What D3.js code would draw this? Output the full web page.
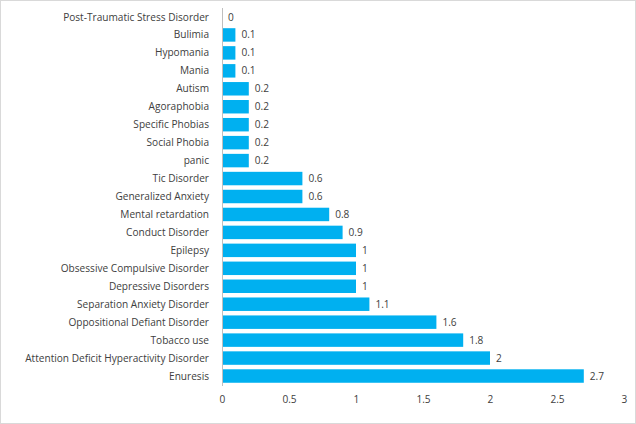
<!DOCTYPE html>
<html><head><meta charset="utf-8">
<script src="https://cdn.jsdelivr.net/npm/d3@7"></script>
<style>body{margin:0;background:#fff}svg{display:block}text{font-family:"Liberation Sans Narrow","Open Sans","Noto Sans",sans-serif;fill:#404040}</style>
</head><body>
<svg id="c" width="636" height="424"></svg>
<script>
const categories = ["Post-Traumatic Stress Disorder","Bulimia","Hypomania","Mania","Autism","Agoraphobia","Specific Phobias","Social Phobia","panic","Tic Disorder","Generalized Anxiety","Mental retardation","Conduct Disorder","Epilepsy","Obsessive Compulsive Disorder","Depressive Disorders","Separation Anxiety Disorder","Oppositional Defiant Disorder","Tobacco use","Attention Deficit Hyperactivity Disorder","Enuresis"];
const values = [0,0.1,0.1,0.1,0.2,0.2,0.2,0.2,0.2,0.6,0.6,0.8,0.9,1,1,1,1.1,1.6,1.8,2,2.7];
const xTicks = [0,0.5,1,1.5,2,2.5,3];
const FONT = '"Liberation Sans Narrow","Open Sans","Noto Sans",sans-serif';

const svg = d3.select("#c");
svg.append("rect").attr("x",0.5).attr("y",0.5).attr("width",635).attr("height",423).attr("fill","#fff").attr("stroke","#d9d9d9");

const x = d3.scaleLinear().domain([0,3]).range([222,624]);
const y = d3.scaleBand().domain(categories).range([8,385]).paddingInner(0.25).paddingOuter(0.125);

svg.selectAll("rect.bar").data(values).join("rect").attr("class","bar")
  .attr("x",x(0)).attr("y",(d,i)=>y(categories[i]))
  .attr("width",d=>x(d)-x(0)).attr("height",y.bandwidth()).attr("fill","#00b0f0");

svg.append("line").attr("x1",x(0)+0.5).attr("x2",x(0)+0.5).attr("y1",8).attr("y2",386).attr("stroke","#bfbfbf");

const labels = svg.append("g").selectAll("text").data(categories).join("text")
  .attr("x",209).attr("y",d=>y(d)+y.bandwidth()/2).attr("dy","0.35em")
  .attr("text-anchor","end").style("font-size","11px").text(d=>d);
let maxW = 0; labels.each(function(){maxW=Math.max(maxW,this.getComputedTextLength());});
const fs = Math.min(12.5, 11*184/maxW);
labels.style("font-size",fs+"px");

svg.append("g").selectAll("text").data(values).join("text")
  .attr("x",d=>x(d)+6).attr("y",(d,i)=>y(categories[i])+y.bandwidth()/2).attr("dy","0.35em")
  .style("font-size",fs+"px").text(d=>d);

const ax = d3.axisBottom(x).tickValues(xTicks).tickSize(0).tickPadding(0).tickFormat(d3.format("~g"));
const g = svg.append("g").attr("transform","translate(0,396)").call(ax);
g.select(".domain").remove();
g.selectAll("text").style("font-size",fs+"px").style("font-family",FONT).attr("fill","#404040");
</script>
</body></html>
